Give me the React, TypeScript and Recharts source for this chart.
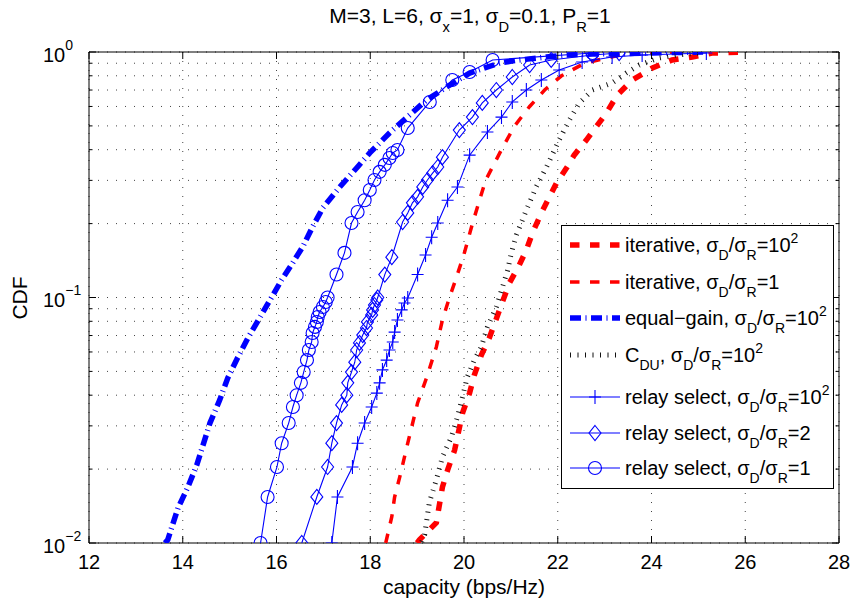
import React from 'react';
import { LineChart, Line, XAxis, YAxis, CartesianGrid, ReferenceArea, Legend } from 'recharts';

const W = 857;
const H = 606;
const PLOT_LEFT = 89;
const PLOT_RIGHT = 839;
const PLOT_TOP = 52;
const PLOT_BOTTOM = 543;
const FONT = '"Liberation Sans", Arial, Helvetica, sans-serif';

const xTicks = [12, 14, 16, 18, 20, 22, 24, 26, 28];
const yTicks = [
  0.01, 0.02, 0.03, 0.04, 0.05, 0.06, 0.07, 0.08, 0.09,
  0.1, 0.2, 0.3, 0.4, 0.5, 0.6, 0.7, 0.8, 0.9, 1,
];

// iterative, sigma_D/sigma_R = 10^2
const iter100Cap = [19.0, 19.05, 19.41, 19.54, 19.65, 19.8, 19.97, 20.12, 20.22, 20.37, 20.54, 20.82, 20.97, 21.18, 21.33, 21.46, 21.65, 21.97, 22.2, 22.35, 22.61, 23.04, 23.27, 23.59, 24.02, 24.44, 24.87, 25.29, 26.0];
const iter100Cdf = [0.01, 0.0103, 0.0121, 0.0169, 0.0198, 0.0239, 0.0339, 0.0409, 0.0483, 0.0583, 0.0684, 0.0959, 0.1146, 0.1357, 0.156, 0.183, 0.221, 0.292, 0.34, 0.38, 0.438, 0.565, 0.668, 0.769, 0.861, 0.928, 0.954, 0.99, 1.0];

// iterative, sigma_D/sigma_R = 1
const iter1Cap = [18.33, 18.46, 18.52, 18.63, 18.8, 19.01, 19.2, 19.41, 19.54, 19.69, 19.84, 20.0, 20.18, 20.46, 20.8, 21.08, 21.4, 21.72, 22.08, 22.57, 23.3, 23.8, 24.5];
const iter1Cdf = [0.01, 0.0128, 0.0154, 0.0186, 0.0255, 0.0372, 0.047, 0.0629, 0.081, 0.1, 0.121, 0.15, 0.2, 0.3, 0.4, 0.5, 0.6, 0.7, 0.8, 0.9, 0.97, 0.99, 1.0];

// equal-gain, sigma_D/sigma_R = 10^2
const egCap = [13.62, 13.68, 13.9, 14.11, 14.3, 14.58, 14.79, 14.96, 15.17, 15.39, 15.64, 15.9, 16.11, 16.32, 16.56, 16.77, 16.99, 17.35, 17.71, 17.99, 18.41, 18.84, 19.2, 19.63, 20.12, 20.76, 21.18, 21.76, 22.18, 22.74, 23.95, 25.1];
const egCdf = [0.01, 0.0103, 0.0139, 0.0169, 0.0208, 0.0308, 0.0383, 0.047, 0.0568, 0.0684, 0.0826, 0.1005, 0.118, 0.136, 0.161, 0.194, 0.232, 0.282, 0.337, 0.388, 0.468, 0.554, 0.637, 0.72, 0.821, 0.902, 0.928, 0.954, 0.972, 0.981, 0.99, 1.0];

// C_DU, sigma_D/sigma_R = 10^2
const cduCap = [19.1, 19.16, 19.26, 19.41, 19.54, 19.73, 19.86, 19.97, 20.07, 20.22, 20.37, 20.5, 20.69, 20.82, 20.93, 21.01, 21.12, 21.33, 21.54, 21.76, 22.03, 22.25, 22.46, 22.74, 23.16, 23.46, 23.74, 24.16, 24.53, 25.0];
const cduCdf = [0.0101, 0.0108, 0.0146, 0.0181, 0.0224, 0.027, 0.0326, 0.0394, 0.0474, 0.0556, 0.0629, 0.0759, 0.0915, 0.11, 0.129, 0.152, 0.18, 0.227, 0.282, 0.34, 0.438, 0.529, 0.62, 0.7, 0.748, 0.821, 0.885, 0.945, 0.972, 0.99];

// relay select, sigma_D/sigma_R = 10^2
const rs100Cap = [17.18, 17.3, 17.62, 17.73, 17.88, 18.03, 18.14, 18.2, 18.26, 18.35, 18.41, 18.48, 18.52, 18.58, 18.67, 18.73, 18.8, 19.01, 19.18, 19.31, 19.44, 19.65, 19.86, 20.12, 20.5, 20.8, 21.03, 21.33, 21.65, 22.03, 22.52, 23.16, 23.8, 25.17];
const rs100Cdf = [0.01, 0.0154, 0.0204, 0.0255, 0.0308, 0.0358, 0.0408, 0.0449, 0.0507, 0.0556, 0.0611, 0.0659, 0.0723, 0.081, 0.089, 0.095, 0.0995, 0.124, 0.149, 0.176, 0.201, 0.249, 0.282, 0.38, 0.472, 0.543, 0.626, 0.7, 0.769, 0.845, 0.91, 0.954, 0.972, 0.99];

// relay select, sigma_D/sigma_R = 2
const rs2Cap = [16.54, 16.86, 17.09, 17.18, 17.28, 17.39, 17.5, 17.52, 17.6, 17.67, 17.71, 17.77, 17.84, 17.92, 17.94, 18.03, 18.05, 18.09, 18.14, 18.16, 18.31, 18.46, 18.69, 18.8, 18.9, 19.01, 19.12, 19.22, 19.33, 19.44, 19.54, 19.9, 20.18, 20.39, 20.69, 21.03, 21.4, 21.86, 22.74, 23.31];
const rs2Cdf = [0.01, 0.0154, 0.0204, 0.0255, 0.0308, 0.0365, 0.04, 0.0449, 0.0497, 0.0545, 0.0611, 0.0653, 0.0703, 0.0751, 0.0795, 0.0849, 0.089, 0.0932, 0.0977, 0.1, 0.124, 0.146, 0.203, 0.221, 0.243, 0.257, 0.282, 0.301, 0.321, 0.34, 0.373, 0.481, 0.543, 0.62, 0.7, 0.791, 0.885, 0.928, 0.972, 0.99];

// relay select, sigma_D/sigma_R = 1
const rs1Cap = [15.66, 15.81, 16.01, 16.11, 16.26, 16.35, 16.43, 16.52, 16.58, 16.65, 16.69, 16.75, 16.77, 16.82, 16.86, 16.88, 16.92, 16.99, 17.05, 17.09, 17.28, 17.45, 17.6, 17.73, 17.88, 17.99, 18.09, 18.2, 18.31, 18.41, 18.48, 18.58, 18.8, 19.27, 19.75, 20.12, 20.61, 22.74];
const rs1Cdf = [0.01, 0.0154, 0.0204, 0.0255, 0.0308, 0.0358, 0.04, 0.0449, 0.0497, 0.0556, 0.0611, 0.0659, 0.0717, 0.0759, 0.0795, 0.0833, 0.0873, 0.0915, 0.0959, 0.1, 0.124, 0.152, 0.201, 0.223, 0.249, 0.274, 0.301, 0.325, 0.347, 0.37, 0.388, 0.399, 0.49, 0.626, 0.769, 0.829, 0.928, 0.99];

const zip = (xs: number[], ys: number[]) => xs.map((x, i) => ({ x, y: ys[i] }));

type Shape = 'plus' | 'diamond' | 'circle' | null;

interface Series {
  id: string;
  label: string;
  data: { x: number; y: number }[];
  color: string;
  width: number;
  dash?: string;
  shape: Shape;
}

const RED = '#ff0000';
const BLUE = '#0000ff';

const series: Series[] = [
  { id: 'it100', label: 'iterative, σ_D/σ_R=10^2', data: zip(iter100Cap, iter100Cdf), color: RED, width: 5.5, dash: '9.5 10.5', shape: null },
  { id: 'it1', label: 'iterative, σ_D/σ_R=1', data: zip(iter1Cap, iter1Cdf), color: RED, width: 3.5, dash: '9.5 10.5', shape: null },
  { id: 'eg', label: 'equal−gain, σ_D/σ_R=10^2', data: zip(egCap, egCdf), color: BLUE, width: 5.5, dash: '11 4.5 1 4.5', shape: null },
  { id: 'cdu', label: 'C_{DU}, σ_D/σ_R=10^2', data: zip(cduCap, cduCdf), color: '#111', width: 5, dash: '1 6.5', shape: null },
  { id: 'rs100', label: 'relay select, σ_D/σ_R=10^2', data: zip(rs100Cap, rs100Cdf), color: BLUE, width: 1.1, shape: 'plus' },
  { id: 'rs2', label: 'relay select, σ_D/σ_R=2', data: zip(rs2Cap, rs2Cdf), color: BLUE, width: 1.1, shape: 'diamond' },
  { id: 'rs1', label: 'relay select, σ_D/σ_R=1', data: zip(rs1Cap, rs1Cdf), color: BLUE, width: 1.1, shape: 'circle' },
];

// tiny TeX-like markup: _x / ^x / _{..} / ^{..}
const texSpans = (src: string, size: number, sub: number, sup: number) => {
  const parts: { t: string; off: number }[] = [];
  let buf = '';
  let i = 0;
  while (i < src.length) {
    const c = src[i];
    if (c === '_' || c === '^') {
      if (buf) {
        parts.push({ t: buf, off: 0 });
        buf = '';
      }
      let t = src[i + 1];
      let j = i + 2;
      if (t === '{') {
        const end = src.indexOf('}', i);
        t = src.slice(i + 2, end);
        j = end + 1;
      }
      parts.push({ t, off: c === '_' ? sub : -sup });
      i = j;
    } else {
      buf += c;
      i++;
    }
  }
  if (buf) parts.push({ t: buf, off: 0 });
  let cur = 0;
  return parts.map((p, k) => {
    const dy = p.off - cur;
    cur = p.off;
    return (
      <tspan key={k} dy={dy} fontSize={p.off ? size * 0.7 : size}>
        {p.t}
      </tspan>
    );
  });
};

const Marker = ({ shape, cx, cy, color }: { shape: Shape; cx: number; cy: number; color: string }) => {
  if (shape === 'plus') {
    return <path d={`M${cx - 6},${cy}H${cx + 6}M${cx},${cy - 7}V${cy + 7}`} stroke={color} strokeWidth={1.1} fill="none" />;
  }
  if (shape === 'diamond') {
    return <path d={`M${cx},${cy - 7.5}L${cx + 6},${cy}L${cx},${cy + 7.5}L${cx - 6},${cy}Z`} stroke={color} strokeWidth={1.1} fill="none" />;
  }
  return <circle cx={cx} cy={cy} r={6.5} stroke={color} strokeWidth={1.1} fill="none" />;
};

const XTick = (props: any) => {
  const { x, payload } = props;
  return (
    <g>
      <line x1={x} x2={x} y1={PLOT_BOTTOM} y2={PLOT_BOTTOM - 7} stroke="#000" />
      <line x1={x} x2={x} y1={PLOT_TOP} y2={PLOT_TOP + 7} stroke="#000" />
      <text x={x} y={569} textAnchor="middle" fontSize={20} fontFamily={FONT} fill="#000">
        {payload.value}
      </text>
    </g>
  );
};

const YTick = (props: any) => {
  const { y, payload } = props;
  const lg = Math.log10(payload.value);
  const exp = Math.round(lg);
  const major = Math.abs(lg - exp) < 1e-6;
  const len = major ? 7 : 3.5;
  const expText = exp < 0 ? `−${-exp}` : `${exp}`;
  return (
    <g>
      <line x1={PLOT_LEFT} x2={PLOT_LEFT + len} y1={y} y2={y} stroke="#000" />
      <line x1={PLOT_RIGHT} x2={PLOT_RIGHT - len} y1={y} y2={y} stroke="#000" />
      {major && (
        <text x={43} y={y + 9.5} fontSize={20} fontFamily={FONT} fill="#000">
          {texSpans(`10^{${expText}}`, 20, 0, 12)}
        </text>
      )}
    </g>
  );
};

const LEG_LEFT = 561;
const LEG_TOP = 225;
const LEG_W = 273;
const LEG_H = 264;
const legendRowY = [20, 57, 93, 130, 172, 208, 243];

const Key = () => (
  <svg width={LEG_W} height={LEG_H} style={{ display: 'block' }}>
    <rect x={0.5} y={0.5} width={LEG_W - 1} height={LEG_H - 1} fill="#fff" stroke="#000" />
    {series.map((s, i) => {
      const cy = legendRowY[i];
      return (
        <g key={s.id}>
          <line x1={9} x2={59} y1={cy} y2={cy} stroke={s.color} strokeWidth={s.width} strokeDasharray={s.dash} />
          {s.shape && <Marker shape={s.shape} cx={34} cy={cy} color={s.color} />}
          <text x={64} y={cy + 7} fontSize={20} fontFamily={FONT} fill="#000">
            {texSpans(s.label, 20, 8, 9)}
          </text>
        </g>
      );
    })}
  </svg>
);

const App: React.FC = () => {
  return (
    <div style={{ position: 'absolute', left: 0, top: 0, width: W, height: H, background: '#fff', overflow: 'hidden' }}>
      <LineChart width={W} height={H} margin={{ top: PLOT_TOP, right: W - PLOT_RIGHT, bottom: 0, left: 0 }}>
        <CartesianGrid stroke="#444" strokeDasharray="1 8" />
        <XAxis
          type="number"
          dataKey="x"
          domain={[12, 28]}
          ticks={xTicks}
          interval={0}
          allowDataOverflow
          height={H - PLOT_BOTTOM}
          axisLine={false}
          tickLine={false}
          tick={<XTick />}
        />
        <YAxis
          type="number"
          scale="log"
          domain={[0.01, 1]}
          ticks={yTicks}
          interval={0}
          allowDataOverflow
          width={PLOT_LEFT}
          axisLine={false}
          tickLine={false}
          tick={<YTick />}
        />
        {series.map((s) => (
          <Line
            key={s.id}
            data={s.data}
            dataKey="y"
            type="linear"
            stroke={s.color}
            strokeWidth={s.width}
            strokeDasharray={s.dash}
            strokeLinecap="butt"
            activeDot={false}
            dot={
              s.shape
                ? (p: any) => <Marker key={`${s.id}-${p.index}`} shape={s.shape} cx={p.cx} cy={p.cy} color={s.color} />
                : false
            }
            isAnimationActive={false}
          />
        ))}
        <ReferenceArea x1={12} x2={28} y1={0.01} y2={1} fill="none" stroke="#000" strokeWidth={1} />
        <Legend
          layout="vertical"
          align="center"
          verticalAlign="middle"
          content={<Key />}
          wrapperStyle={{ left: LEG_LEFT, top: LEG_TOP, width: LEG_W, height: LEG_H, margin: 0, padding: 0 }}
        />
      </LineChart>
      <svg width={W} height={H} style={{ position: 'absolute', left: 0, top: 0, pointerEvents: 'none' }}>
        <text x={470} y={23} textAnchor="middle" fontSize={21} fontFamily={FONT} fill="#000">
          {texSpans('M=3, L=6, σ_x=1, σ_D=0.1, P_R=1', 21, 9, 9)}
        </text>
        <text x={464} y={594} textAnchor="middle" fontSize={21} fontFamily={FONT} fill="#000">
          capacity (bps/Hz)
        </text>
        <text transform="translate(27,298) rotate(-90)" textAnchor="middle" fontSize={21} fontFamily={FONT} fill="#000">
          CDF
        </text>
      </svg>
    </div>
  );
};

export default App;
